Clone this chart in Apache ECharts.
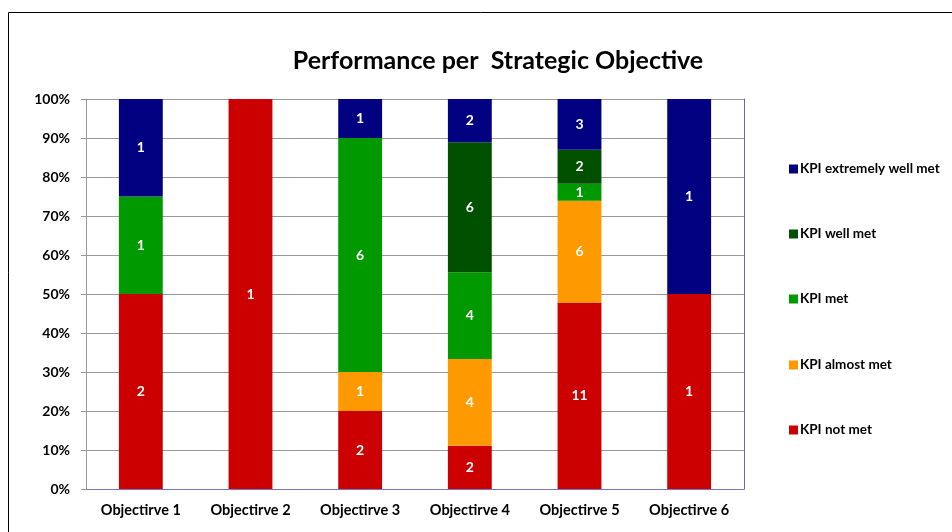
<!DOCTYPE html>
<html><head><meta charset="utf-8">
<script src="https://cdn.jsdelivr.net/npm/echarts@6/dist/echarts.min.js"></script>
<style>html,body{margin:0;padding:0;background:#fff}#c{width:952px;height:532px}</style>
</head><body><div id="c"></div>
<script>
const categories = ['Objectirve 1','Objectirve 2','Objectirve 3','Objectirve 4','Objectirve 5','Objectirve 6'];
const seriesNames = ['KPI not met','KPI almost met','KPI met','KPI well met','KPI extremely well met'];
const notMet        = [2, 1, 2, 2, 11, 1];
const almostMet     = [0, 0, 1, 4, 6, 0];
const met           = [1, 0, 6, 4, 1, 0];
const wellMet       = [0, 0, 0, 6, 2, 0];
const extremelyWell = [1, 0, 1, 2, 3, 1];
const yTicks = ['0%','10%','20%','30%','40%','50%','60%','70%','80%','90%','100%'];

const counts = [notMet, almostMet, met, wellMet, extremelyWell];
const colors = ['#cc0000','#ff9900','#009900','#005000','#000080'];
const totals = categories.map((_, i) => counts.reduce((s, a) => s + a[i], 0));

const FONT = 'Lato';
const series = counts.map((arr, k) => ({
  name: seriesNames[k],
  type: 'bar',
  stack: 'total',
  barWidth: '40%',
  itemStyle: { color: colors[k] },
  data: arr.map((v, i) => ({ value: v === 0 ? null : v / totals[i] * 100, count: v })),
  label: {
    show: true, position: 'inside', color: '#fff', fontFamily: FONT, fontWeight: 'bold', fontSize: 14,
    formatter: p => p.data && p.data.count ? String(p.data.count) : ''
  }
}));

const legendTops = [157, 222, 287, 353, 418];
const legends = seriesNames.map((n, k) => ({
  data: [n], left: 784, top: legendTops[4 - k], orient: 'vertical',
  itemWidth: 9, itemHeight: 9, itemGap: 0, icon: 'rect',
  textStyle: { fontFamily: FONT, fontWeight: 'bold', fontSize: 13.5, color: '#000', padding: [0,0,0,-3] },
  selectedMode: false
}));

const chart = echarts.init(document.getElementById('c'));
chart.setOption({
  backgroundColor: '#fff',
  animation: false,
  title: {
    text: 'Performance per  Strategic Objective', left: 493, top: 43, textAlign: 'center',
    textStyle: { fontFamily: FONT, fontWeight: 'bold', fontSize: 25, color: '#000' }
  },
  legend: legends,
  graphic: [{ type: 'rect', shape: { x: 8.5, y: 12.5, width: 1000, height: 600 },
    style: { fill: 'none', stroke: '#000', lineWidth: 1 }, z: 100 }],
  grid: { left: 86, right: 208, top: 99, bottom: 43 },
  xAxis: [{
    type: 'category', data: categories,
    axisLine: { lineStyle: { color: '#999', width: 1 } },
    axisTick: { show: false },
    axisLabel: { fontFamily: FONT, fontWeight: 'bold', fontSize: 14.5, color: '#000', margin: 14 }
  }, {
    type: 'category', position: 'top', data: categories,
    axisLine: { lineStyle: { color: '#7878b8' } }, axisTick: { show: false }, axisLabel: { show: false }
  }],
  yAxis: [{
    type: 'value', min: 0, max: 100, interval: 10,
    axisLine: { show: true, lineStyle: { color: '#999' } },
    axisTick: { show: true, length: 5, lineStyle: { color: '#999' } },
    splitLine: { lineStyle: { color: '#999' } },
    axisLabel: { fontFamily: FONT, fontWeight: 'bold', fontSize: 14, color: '#000', margin: 16,
      formatter: v => yTicks[Math.round(v / 10)] }
  }, {
    type: 'value', position: 'right', min: 0, max: 100, interval: 10,
    axisLine: { show: true, lineStyle: { color: '#6a6aa8' } },
    axisTick: { show: false }, axisLabel: { show: false }, splitLine: { show: false }
  }],
  series
});
</script></body></html>
